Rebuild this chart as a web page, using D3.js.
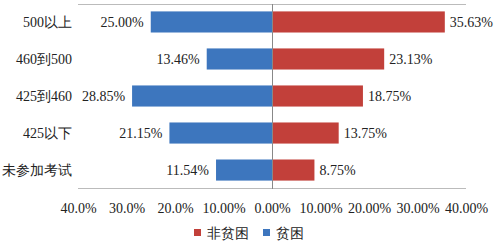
<!DOCTYPE html>
<html>
<head>
<meta charset="utf-8">
<script src="https://cdn.jsdelivr.net/npm/d3@7"></script>
<style>
  body { margin: 0; background: #fff; }
</style>
</head>
<body>
<svg width="498" height="242"></svg>
<script>
let categories = ["500以上", "460到500", "425到460", "425以下", "未参加考试"];
let poor = [25.00, 13.46, 28.85, 21.15, 11.54];
let nonPoor = [35.63, 23.13, 18.75, 13.75, 8.75];
let tickValues = [-40, -30, -20, -10, 0, 10, 20, 30, 40];
let tickLabels = ["40.0%", "30.0%", "20.0%", "10.00%", "0.00%", "10.00%", "20.00%", "30.00%", "40.00%"];

let font = "Liberation Serif";
let svg = d3.select("svg");
let blue = "#3D76BE", red = "#C2403A";

let x = d3.scaleLinear().domain([-40, 40]).range([78, 466]);
let y = d3.scaleBand().domain(categories).range([4, 188]).paddingInner(0.43).paddingOuter(0.2);

// frame lines
svg.append("line").attr("x1", 78).attr("x2", 466).attr("y1", 4.5).attr("y2", 4.5)
    .attr("stroke", "#bbb").attr("stroke-width", 1);
svg.append("line").attr("x1", 78).attr("x2", 466).attr("y1", 188.5).attr("y2", 188.5)
    .attr("stroke", "#bbb").attr("stroke-width", 1);

// bars
svg.selectAll(".poor").data(categories).enter().append("rect")
    .attr("x", (d, i) => x(-poor[i]))
    .attr("y", d => y(d))
    .attr("width", (d, i) => x(0) - x(-poor[i]))
    .attr("height", y.bandwidth())
    .attr("fill", blue);
svg.selectAll(".np").data(categories).enter().append("rect")
    .attr("x", x(0))
    .attr("y", d => y(d))
    .attr("width", (d, i) => x(nonPoor[i]) - x(0))
    .attr("height", y.bandwidth())
    .attr("fill", red);

// zero line
svg.append("line").attr("x1", x(0) + 0.5).attr("x2", x(0) + 0.5).attr("y1", 4).attr("y2", 189)
    .attr("stroke", "#888").attr("stroke-width", 1);

function label(sel) {
    sel.attr("font-family", font).attr("font-size", 14).attr("fill", "#222");
}

// value labels
svg.selectAll(".pl").data(categories).enter().append("text")
    .attr("x", (d, i) => x(-poor[i]) - 7)
    .attr("y", d => y(d) + y.bandwidth() / 2)
    .attr("dy", "0.35em").attr("text-anchor", "end").call(label)
    .text((d, i) => poor[i].toFixed(2) + "%");
svg.selectAll(".nl").data(categories).enter().append("text")
    .attr("x", (d, i) => x(nonPoor[i]) + 5)
    .attr("y", d => y(d) + y.bandwidth() / 2)
    .attr("dy", "0.35em").attr("text-anchor", "start").call(label)
    .text((d, i) => nonPoor[i].toFixed(2) + "%");

// category labels
svg.selectAll(".cl").data(categories).enter().append("text")
    .attr("x", 72)
    .attr("y", d => y(d) + y.bandwidth() / 2)
    .attr("dy", "0.35em").attr("text-anchor", "end").call(label)
    .text(d => d);

// x axis
let xAxis = d3.axisBottom(x).tickValues(tickValues).tickSize(0)
    .tickFormat((d, i) => tickLabels[i]);
let gx = svg.append("g").attr("transform", "translate(0,200)").call(xAxis);
gx.select(".domain").remove();
gx.attr("font-family", font).attr("font-size", 14);
gx.selectAll("text").attr("fill", "#222");

// legend
let legend = [{ name: "非贫困", color: red, x: 194 }, { name: "贫困", color: blue, x: 263 }];
legend.forEach(l => {
    svg.append("rect").attr("x", l.x).attr("y", 229).attr("width", 7).attr("height", 7).attr("fill", l.color);
    svg.append("text").attr("x", l.x + 13).attr("y", 233).attr("dy", "0.35em")
        .call(label).text(l.name);
});
</script>
</body>
</html>
